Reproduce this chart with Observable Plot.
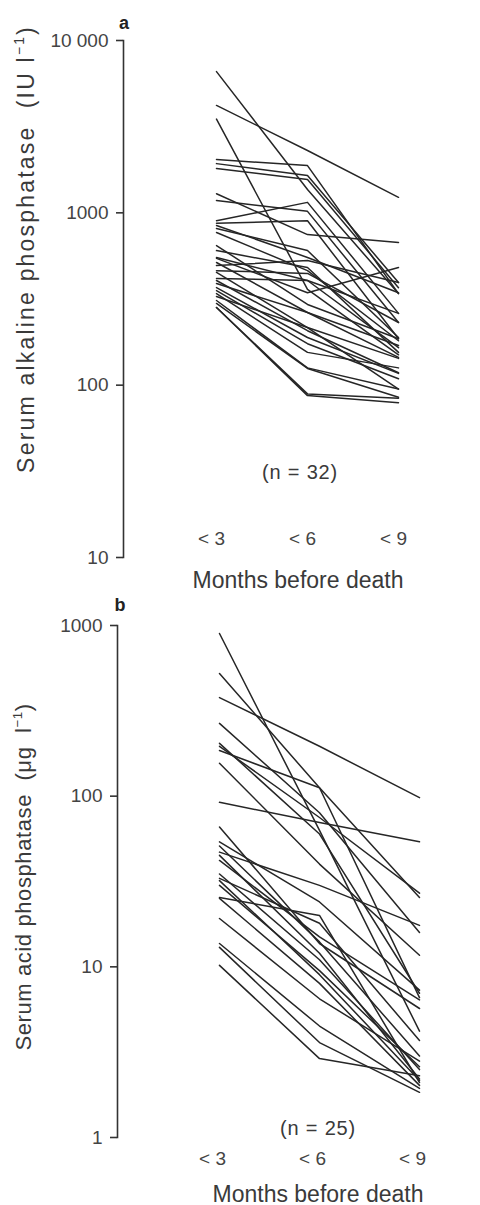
<!DOCTYPE html>
<html><head><meta charset="utf-8">
<script src="https://cdn.jsdelivr.net/npm/d3@7"></script>
<script src="https://cdn.jsdelivr.net/npm/@observablehq/plot@0.6"></script>
<style>
body{margin:0;background:#fff;}
#wrap{position:relative;width:480px;height:1205px;overflow:hidden;font-family:"Liberation Sans",Arial,sans-serif;color:#3a3a3a;}
#wrap svg text{font-size:19px;font-family:"Liberation Sans",Arial,sans-serif;font-variant-numeric:normal;}
.panel{position:absolute;left:0;}
.ylab{position:absolute;transform:translate(-50%,-50%) rotate(-90deg);white-space:nowrap;}
.ya{font-size:23px;letter-spacing:2.2px;}
.yb{font-size:22px;letter-spacing:0.6px;}
.ctr{position:absolute;transform:translate(-50%,-50%);white-space:nowrap;}
.tag{font-weight:bold;font-size:18px;color:#222;}
.n{font-size:20px;letter-spacing:0.8px;}
.xl{font-size:23px;}
sup{font-size:0.6em;vertical-align:0.7em;line-height:0;}
</style></head><body><div id="wrap"></div>
<script>
// shared categories
const months = ["< 3", "< 6", "< 9"];

// Panel a: serum alkaline phosphatase (IU l-1), n = 32
const aTicks = [10, 100, 1000, 10000];
const aTickLabels = ["10", "100", "1000", "10 000"];
const aLt3 = [6600, 4200, 3500, 2040, 1930, 1810, 1290, 1180, 900, 870, 845, 811, 769, 604, 551, 544, 515, 462, 451, 416, 405, 389, 368, 354, 340, 327, 310, 298, 282, 282, 494, 646];
const aLt6 = [1365, 2300, 360, 1880, 1645, 1560, 748, 1020, 1150, 900, 551, 604, 462, 482, 405, 344, 264, 445, 216, 405, 207, 264, 189, 174, 155, 216, 126, 125, 89, 87, 529, 294];
const aLt9 = [340, 1230, 150, 340, 394, 368, 673, 231, 261, 186, 344, 189, 181, 155, 165, 482, 145, 231, 143, 261, 118, 170, 117, 109, 126, 95, 95, 85, 84, 79, 394, 186];

// Panel b: serum acid phosphatase (ug l-1), n = 25
const bTicks = [1, 10, 100, 1000];
const bTickLabels = ["1", "10", "100", "1000"];
const bLt3 = [898, 523, 378, 267, 204, 196, 185, 156, 92, 66, 54, 51, 47, 45, 42, 35, 33, 32, 30, 25.5, 25.2, 19.2, 13.7, 13.0, 10.2];
const bLt6 = [63, 112, 196, 80, 60, 75, 112, 40, 70, 13.7, 24, 14, 30, 12, 15, 11, 18, 9, 9.5, 20, 8, 6.5, 4.5, 3.6, 2.9];
const bLt9 = [4.2, 25.5, 98, 15.9, 7.0, 27, 6.6, 11.7, 54, 5.7, 7.3, 3.0, 17.5, 2.2, 6.4, 2.5, 3.7, 2.16, 2.6, 2.10, 2.02, 2.8, 1.94, 1.84, 2.3];

function rows(cols) {
  const out = [];
  cols[0].forEach((_, i) => cols.forEach((c, j) => out.push({id: i, month: months[j], value: c[i]})));
  return out;
}
const dataA = rows([aLt3, aLt6, aLt9]);
const dataB = rows([bLt3, bLt6, bLt9]);

const font = '"Liberation Sans", Arial, sans-serif';
const ink = "#262626";

function panel({data, ticks, labels, top, height, mTop, mBottom, mLeft, xRange, xdy, xdx}) {
  const p = Plot.plot({
    width: 480, height, marginLeft: mLeft, marginTop: mTop, marginBottom: mBottom, marginRight: 0,
    style: {fontFamily: font, fontSize: "19px", color: "#444", background: "transparent", overflow: "visible"},
    x: {type: "point", domain: months, range: xRange},
    y: {type: "log", domain: [ticks[0], ticks[ticks.length - 1]]},
    marks: [
      Plot.frame({anchor: "left", stroke: "#333", strokeWidth: 1.6}),
      Plot.axisY({ticks, tickFormat: d => labels[ticks.indexOf(d)], tickSize: 7, tickPadding: 8, label: null, stroke: "#333", strokeWidth: 1.6}),
      Plot.axisX({tickSize: 0, dy: xdy, dx: xdx, label: null}),
      Plot.line(data, {x: "month", y: "value", z: "id", stroke: ink, strokeWidth: 1.5})
    ]
  });
  p.classList.add("panel");
  p.style.top = top + "px";
  return p;
}

const wrap = document.getElementById("wrap");
wrap.appendChild(panel({data: dataA, ticks: aTicks, labels: aTickLabels, top: 0, height: 600, mTop: 40, mBottom: 43, mLeft: 123, xRange: [170, 443], xdy: -35, xdx: -5}));
wrap.appendChild(panel({data: dataB, ticks: bTicks, labels: bTickLabels, top: 590, height: 615, mTop: 35, mBottom: 68, mLeft: 117, xRange: [168, 470], xdy: 5, xdx: -7}));

function txt(cls, html, x, y) {
  const d = document.createElement("div");
  d.className = cls;
  d.innerHTML = html;
  d.style.left = x + "px";
  d.style.top = y + "px";
  wrap.appendChild(d);
}
txt("ctr tag", "a", 124, 23);
txt("ctr tag", "b", 120, 605);
txt("ylab ya", "Serum alkaline phosphatase&nbsp; (IU l<sup>−1</sup>)", 26, 249);
txt("ylab yb", "Serum acid phosphatase&nbsp; (μg&nbsp; l<sup>−1</sup>)", 24, 877);
txt("ctr n", "(n = 32)", 300, 472);
txt("ctr n", "(n = 25)", 318, 1128);
txt("ctr xl", "Months before death", 298, 580);
txt("ctr xl", "Months before death", 318, 1194);
</script>
</body></html>
